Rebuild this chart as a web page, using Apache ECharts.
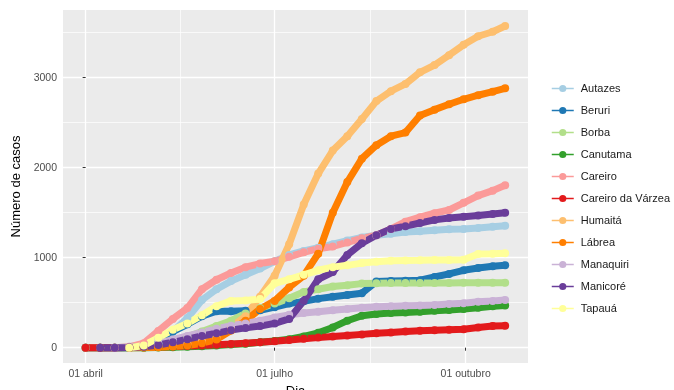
<!DOCTYPE html>
<html>
<head>
<meta charset="utf-8">
<script src="https://cdn.jsdelivr.net/npm/echarts@6/dist/echarts.min.js"></script>
<style>
  html, body { margin: 0; padding: 0; background: #ffffff; }
  #chart { width: 674px; height: 390px; }
</style>
</head>
<body>
<div id="chart"></div>
<script>
// days after 01 abril 2020, sampled weekly
const days = [0, 7, 14, 21, 28, 35, 42, 49, 56, 63, 70, 77, 84, 91, 98, 105, 112, 119, 126, 133, 140, 147, 154, 161, 168, 175, 182, 189, 196, 202];

const municipios = ["Autazes", "Beruri", "Borba", "Canutama", "Careiro", "Careiro da Várzea", "Humaitá", "Lábrea", "Manaquiri", "Manicoré", "Tapauá"];
const colors = ["#A6CEE3", "#1F78B4", "#B2DF8A", "#33A02C", "#FB9A99", "#E31A1C", "#FDBF6F", "#FF7F00", "#CAB2D6", "#6A3D9A", "#FFFF99"];

const autazes = [0, 0, 0, 10, 40, 100, 180, 330, 530, 650, 740, 810, 880, 960, 1030, 1075, 1110, 1150, 1190, 1225, 1250, 1265, 1285, 1295, 1305, 1315, 1320, 1330, 1345, 1355];
const beruri = [0, 0, 0, 0, 10, 50, 180, 260, 350, 405, 405, 410, 415, 450, 490, 515, 545, 565, 585, 605, 735, 740, 745, 750, 785, 820, 860, 885, 905, 915];
const borba = [0, 0, 0, 2, 10, 30, 70, 120, 180, 240, 300, 380, 440, 490, 550, 620, 650, 680, 695, 712, 715, 718, 718, 720, 720, 720, 721, 722, 722, 722];
const canutama = [0, 0, 0, 0, 0, 2, 5, 10, 15, 25, 35, 45, 60, 75, 95, 125, 165, 225, 300, 355, 375, 385, 392, 400, 410, 420, 430, 445, 460, 470];
const careiro = [0, 0, 0, 10, 50, 185, 320, 440, 650, 755, 830, 895, 935, 960, 1010, 1060, 1100, 1125, 1170, 1215, 1250, 1320, 1400, 1450, 1495, 1530, 1610, 1690, 1745, 1805];
const careiroVarzea = [0, 0, 0, 2, 5, 8, 12, 18, 25, 32, 40, 50, 60, 72, 85, 100, 112, 125, 135, 148, 160, 170, 180, 188, 195, 200, 205, 225, 240, 245];
const humaita = [null, null, null, 0, 5, 10, 20, 40, 70, 110, 230, 350, 566, 800, 1150, 1590, 1935, 2190, 2350, 2540, 2740, 2850, 2930, 3060, 3140, 3250, 3365, 3460, 3510, 3574];
const labrea = [null, null, null, 0, 3, 6, 12, 25, 50, 90, 190, 300, 430, 520, 670, 800, 1045, 1500, 1840, 2100, 2250, 2350, 2390, 2580, 2645, 2705, 2760, 2805, 2845, 2882];
const manaquiri = [null, null, 0, 5, 20, 50, 90, 130, 170, 210, 245, 270, 300, 335, 365, 385, 400, 415, 430, 445, 455, 460, 465, 470, 475, 485, 495, 510, 520, 530];
const manicore = [null, 0, 0, 2, 10, 30, 60, 95, 130, 160, 195, 220, 240, 270, 320, 520, 760, 840, 1030, 1160, 1250, 1320, 1350, 1385, 1420, 1440, 1455, 1470, 1485, 1500];
const tapaua = [null, null, null, 0, 25, 110, 200, 270, 360, 460, 520, 525, 540, 715, 760, 810, 860, 895, 915, 940, 955, 965, 970, 972, 975, 975, 978, 1040, 1045, 1050];

const values = [autazes, beruri, borba, canutama, careiro, careiroVarzea, humaita, labrea, manaquiri, manicore, tapaua];

const xTickDays = [0, 91, 183];
const xTickLabels = ["01 abril", "01 julho", "01 outubro"];
const xMinorDays = [45.5, 137];
const yTicks = [0, 1000, 2000, 3000];
const yMinor = [500, 1500, 2500, 3500];

const font = "Liberation Sans, Arial, sans-serif";

const chart = echarts.init(document.getElementById("chart"), null, { renderer: "canvas" });

const baseX = {
  type: "value",
  min: -10.9,
  max: 213,
  gridIndex: 0,
  position: "bottom",
  axisLine: { show: false },
};
const baseY = {
  type: "value",
  min: -170,
  max: 3752,
  gridIndex: 0,
  position: "left",
  axisLine: { show: false },
};

chart.setOption({
  animation: false,
  backgroundColor: "#ffffff",
  grid: {
    left: 63,
    top: 10,
    width: 465,
    height: 353,
    show: true,
    backgroundColor: "#EBEBEB",
    borderWidth: 0,
    containLabel: false,
    outerBoundsMode: "none",
  },
  xAxis: [
    {
      ...baseX,
      name: "Dia",
      nameLocation: "middle",
      nameGap: 18,
      nameTextStyle: { fontFamily: font, fontSize: 13, color: "#000000", verticalAlign: "top" },
      axisTick: { show: true, length: 3, lineStyle: { color: "#333333" }, customValues: xTickDays },
      axisLabel: {
        show: true,
        customValues: xTickDays,
        formatter: (v) => xTickLabels[xTickDays.indexOf(v)] ?? "",
        color: "#4D4D4D",
        fontFamily: font,
        fontSize: 10.5,
        margin: 6,
      },
      splitLine: { show: true, lineStyle: { color: "#ffffff", width: 1.3 } },
      z: 3,
    },
    {
      ...baseX,
      axisTick: { show: false, customValues: xMinorDays },
      axisLabel: { show: false, customValues: xMinorDays },
      splitLine: { show: true, lineStyle: { color: "#ffffff", width: 0.7 } },
      z: 2,
    },
  ],
  yAxis: [
    {
      ...baseY,
      name: "Número de casos",
      nameLocation: "middle",
      nameGap: 38,
      nameRotate: 90,
      nameTextStyle: { fontFamily: font, fontSize: 13, color: "#000000" },
      axisTick: { show: true, length: 3, lineStyle: { color: "#333333" }, customValues: yTicks },
      axisLabel: {
        show: true,
        customValues: yTicks,
        formatter: (v) => String(v),
        color: "#4D4D4D",
        fontFamily: font,
        fontSize: 10.5,
        margin: 6,
      },
      splitLine: { show: true, lineStyle: { color: "#ffffff", width: 1.3 } },
      z: 3,
    },
    {
      ...baseY,
      axisTick: { show: false, customValues: yMinor },
      axisLabel: { show: false, customValues: yMinor },
      splitLine: { show: true, lineStyle: { color: "#ffffff", width: 0.7 } },
      z: 2,
    },
  ],
  legend: {
    orient: "vertical",
    left: 551,
    top: 83,
    padding: 0,
    itemWidth: 22,
    itemHeight: 9,
    itemGap: 11,
    data: municipios,
    textStyle: { fontFamily: font, fontSize: 11, color: "#1A1A1A", padding: [0, 0, 0, 2] },
    lineStyle: { width: 1.5 },
  },
  series: municipios.map((name, i) => ({
    name,
    type: "line",
    xAxisIndex: 0,
    yAxisIndex: 0,
    data: days
      .map((d, j) => [d, values[i][j]])
      .filter((p) => p[1] !== null),
    symbol: "circle",
    symbolSize: 8,
    showSymbol: true,
    lineStyle: { width: 7, color: colors[i] },
    itemStyle: { color: colors[i] },
    emphasis: { disabled: true },
    z: 5,
  })),
});
</script>
</body>
</html>
